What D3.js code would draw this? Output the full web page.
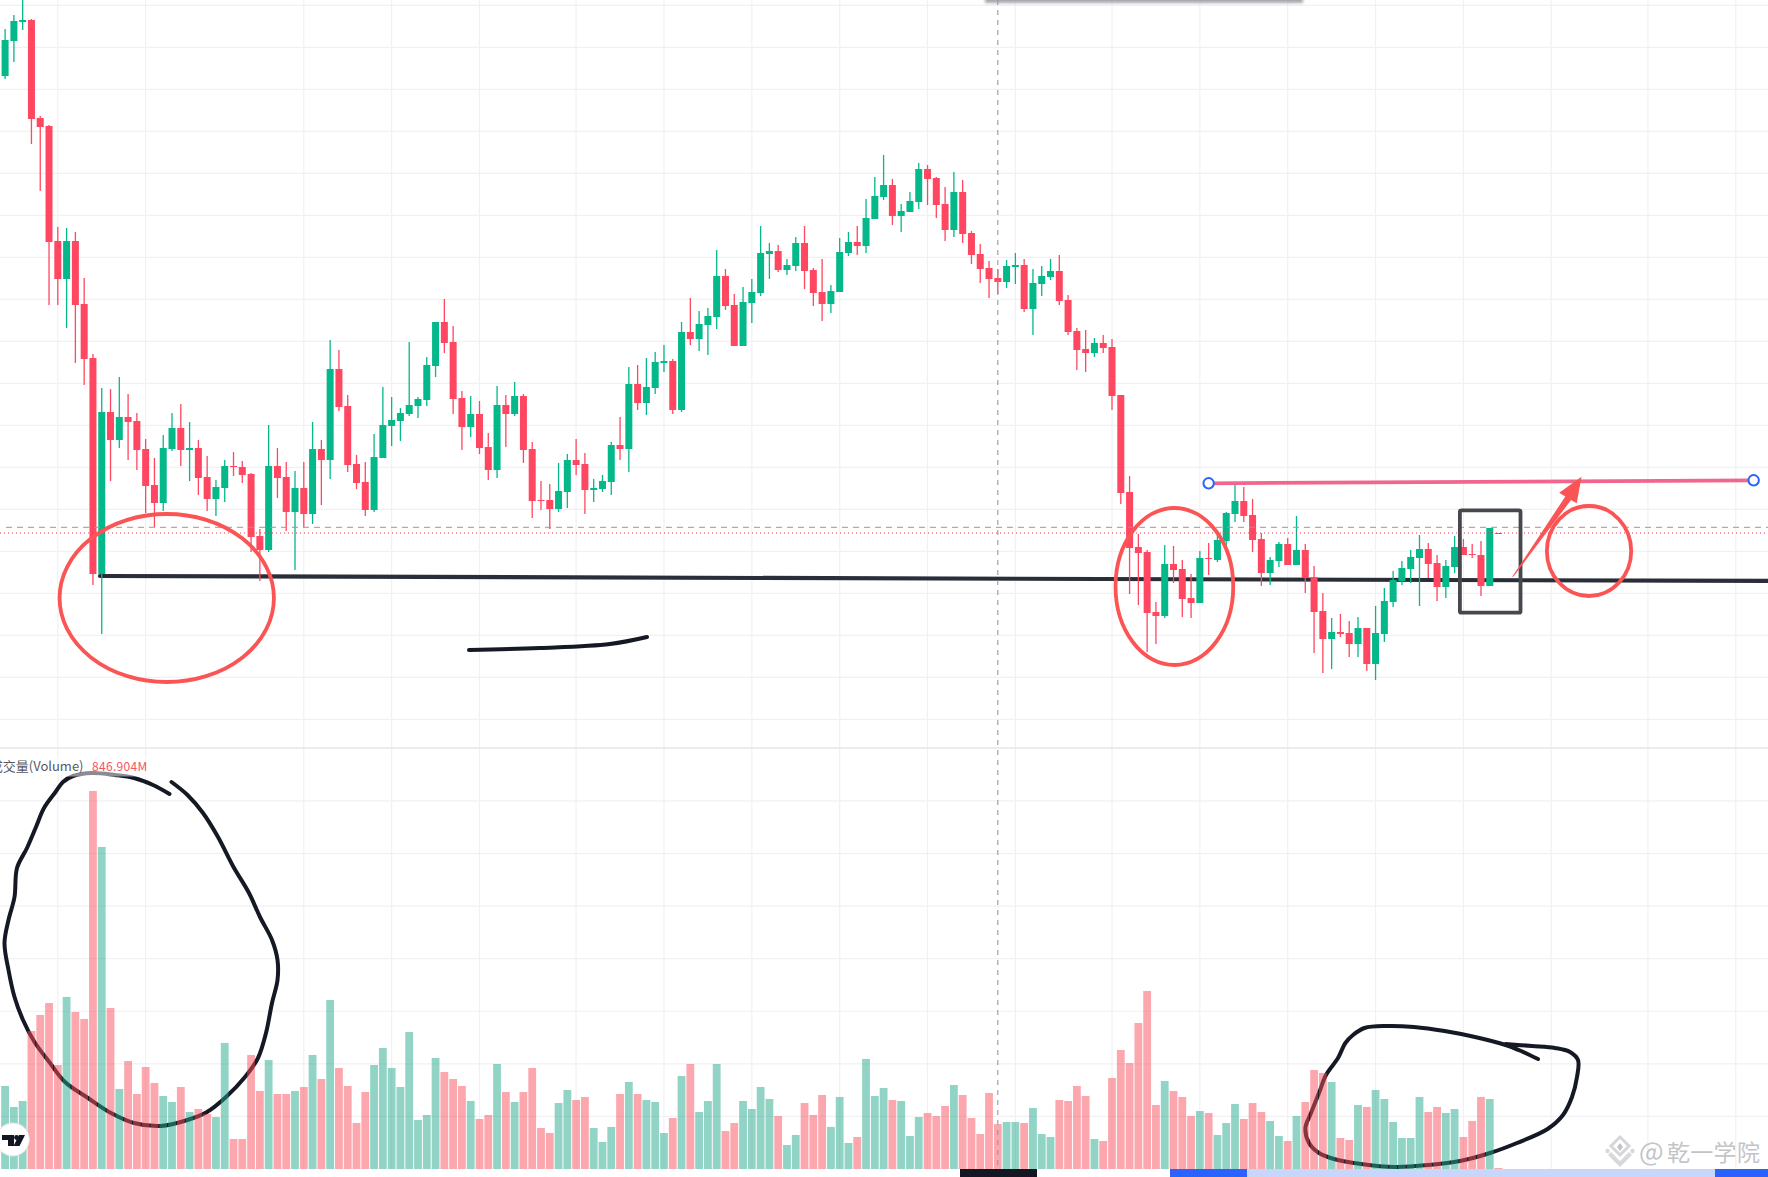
<!DOCTYPE html>
<html>
<head>
<meta charset="utf-8">
<title>K线图</title>
<script src="https://cdn.jsdelivr.net/npm/d3@7/dist/d3.min.js"></script>
<style>
  html, body { margin: 0; padding: 0; background: #fff; overflow: hidden; }
  svg { display: block; }
  text { font-family: "Noto Sans CJK SC", "Noto Sans", sans-serif; }
</style>
</head>
<body>
<div id="chart"></div>
<script>
// values (no price axis visible, so price is in arbitrary points)
const opens = [924,959,978,980,882,874,759,721,759,696,642,426,588,560,583,579,551,515,497,551,572,550,552,523,501,512,534,533,526,464,450,534,523,488,512,486,551,540,631,594,536,518,490,542,574,579,586,594,600,634,678,658,602,573,586,553,530,595,586,604,551,500,500,491,508,540,536,510,511,518,555,551,616,597,612,637,639,590,668,661,675,683,724,695,654,697,707,746,749,730,734,757,730,708,696,708,747,758,754,781,803,815,784,788,798,831,822,796,770,808,767,746,732,722,718,733,735,691,716,723,729,700,669,651,647,657,653,605,508,453,448,388,384,436,431,402,397,442,440,459,486,499,485,461,427,439,456,435,450,423,389,361,368,367,356,372,336,366,398,419,431,442,451,437,413,433,453,446,445,414,467];
const closes = [960,979,980,881,873,758,721,759,695,641,426,588,560,583,578,550,514,497,552,572,550,552,522,501,513,534,533,525,463,450,534,522,488,512,486,551,540,631,593,535,517,490,543,575,580,587,595,601,635,678,657,601,573,586,552,530,595,586,604,550,499,499,491,509,540,535,510,512,519,555,551,616,597,613,638,639,590,668,661,676,684,724,694,654,698,708,747,749,730,735,757,729,707,696,709,748,758,754,782,804,815,784,789,799,831,821,795,770,808,766,745,731,721,718,734,735,691,717,724,729,699,668,650,647,657,652,604,507,452,447,387,384,436,430,401,397,442,441,460,487,499,484,460,427,440,456,435,450,422,388,361,368,366,356,372,336,367,399,420,432,443,451,436,413,434,453,445,445,414,472,466];
const highs = [971,985,1005,981,884,875,773,772,768,722,646,612,611,623,606,587,561,542,565,587,596,578,560,544,520,540,548,539,527,471,575,552,538,529,538,578,560,660,650,605,545,538,566,613,603,592,658,603,643,678,701,674,609,604,599,567,614,605,618,606,558,519,516,537,546,561,547,521,525,558,583,633,635,642,648,655,641,678,702,689,692,750,731,706,713,721,774,757,755,741,763,774,732,741,715,762,768,774,801,823,845,821,796,808,837,835,823,813,828,820,769,756,739,731,740,747,741,731,734,741,745,705,672,670,662,665,661,605,524,466,450,398,455,454,440,426,449,457,466,488,516,513,501,467,443,458,462,484,456,434,407,382,386,379,383,372,394,412,429,439,450,465,457,445,440,464,461,456,459,472,467];
const lows = [921,938,970,856,809,695,695,672,637,615,415,366,519,552,540,530,487,473,489,549,534,519,505,489,484,498,524,517,448,419,448,502,469,430,473,476,495,521,589,528,511,484,488,542,554,559,584,582,594,623,647,586,550,563,546,520,522,553,584,537,482,490,471,488,492,525,486,498,508,505,540,528,590,585,606,628,586,588,655,649,645,671,690,654,654,677,704,721,728,725,729,711,694,679,687,708,744,745,747,781,800,775,768,788,791,795,782,759,763,757,736,717,702,706,712,716,688,665,704,720,695,665,630,628,643,647,590,496,406,395,348,356,382,417,383,382,397,425,438,452,478,478,448,414,415,433,435,435,407,347,327,331,363,343,343,329,320,358,393,415,417,394,422,399,402,427,445,442,404,414,466];
// volume in millions
const volumes = [1566,1170,1283,2604,2906,3132,1962,3246,2963,2830,7133,6076,3038,1510,2038,1415,1925,1623,1378,1264,1547,1076,1132,1038,981,2378,566,566,2151,1472,2057,1415,1415,1472,1547,2151,1698,3189,1906,1566,868,1453,1962,2283,1906,1547,2585,925,1019,2095,1830,1698,1566,1283,944,1019,1981,1453,1264,1453,1906,774,679,1245,1491,1302,1359,774,510,793,1415,1642,1415,1302,1264,679,962,1755,1981,1076,1283,1981,717,868,1283,1132,1547,1321,1000,453,642,1245,1019,1396,793,1359,491,604,2076,1378,1528,1302,1283,623,981,1057,1000,1189,1585,1396,962,660,1434,847,887,887,868,1151,660,604,1302,1283,1566,1378,566,528,1717,2246,2000,2755,3359,1208,1661,1472,1359,1000,1094,1057,642,868,1227,944,1245,1076,906,623,528,1000,1264,1868,1812,1642,585,547,1208,1170,1491,1321,887,585,585,1359,1076,1170,1057,1132,604,906,1359,1321,19];

// bars that carry a time gridline (a few are past the last candle)
const timeGridBars = [6,16,34,44,54,65,75,85,95,105,115,126,136,146,156,166,176,187,197];
const priceGridTicks = d3.range(994.7, 270, -42);
const volumeGridTicks = [992,1984,2976,3968,4960,5952,6944];

const volumeName = "成交量(Volume)";
const volumeLabel = "846.904M";
const hoverBar = 113;
const hoverPrice = 472.7;
const lastPrice = 467;

const width = 1768, height = 1177;
const paneSplit = 748, volumeBase = 1169;
const green = "#05b88a", red = "#ff4761";
const volGreen = "rgb(36,170,140)", volRed = "rgb(249,80,93)";

const x = d3.scaleLinear().domain([0, 100]).range([5.1, 883.6]);
const yPrice = d3.scaleLinear().domain([1000, 0]).range([0, 1000]);
const yVol = d3.scaleLinear().domain([0, 1000]).range([volumeBase, volumeBase - 53]);

const candles = opens.map((o, i) => ({
  i, open: o, close: closes[i], high: highs[i], low: lows[i], volume: volumes[i]
}));
const isUp = d => d.close >= d.open;

const svg = d3.select("#chart").append("svg")
  .attr("width", width)
  .attr("height", height)
  .attr("viewBox", `0 0 ${width} ${height}`);

const defs = svg.append("defs");
defs.append("filter").attr("id", "soft").attr("x", "-5%").attr("y", "-100%").attr("width", "110%").attr("height", "300%")
  .append("feGaussianBlur").attr("stdDeviation", 1.6);

svg.append("rect").attr("width", width).attr("height", height).attr("fill", "#fff");

// ---------- Grid ----------
const grid = svg.append("g").attr("stroke", "#f1f1f4").attr("stroke-width", 1.2);
grid.selectAll(".time-grid").data(timeGridBars).enter().append("line")
  .attr("x1", d => x(d)).attr("x2", d => x(d))
  .attr("y1", 0).attr("y2", volumeBase);
grid.selectAll(".price-grid").data(priceGridTicks).enter().append("line")
  .attr("x1", 0).attr("x2", width)
  .attr("y1", d => yPrice(d)).attr("y2", d => yPrice(d));
grid.selectAll(".vol-grid").data(volumeGridTicks).enter().append("line")
  .attr("x1", 0).attr("x2", width)
  .attr("y1", d => yVol(d)).attr("y2", d => yVol(d));
svg.append("line")
  .attr("x1", 0).attr("x2", width).attr("y1", paneSplit).attr("y2", paneSplit)
  .attr("stroke", "#e6e6e9").attr("stroke-width", 1.6);

// toolbar shadow peeking in at the top
svg.append("rect")
  .attr("x", 985).attr("y", -8).attr("width", 318).attr("height", 11)
  .attr("fill", "#a6a8ae").attr("filter", "url(#soft)");

// ---------- Pen strokes (freehand, drawn in page pixels, they sit under the bars) ----------
const inkLine = d3.line().curve(d3.curveCatmullRom.alpha(0.5));
const penVolumeLeft = [[169.5,794],[153,785],[134,778],[115,775],[92,773],[73,776],[63,782],[55.5,792],[44,808],[36,827],[27,848],[17,868],[14.5,897],[8.5,920],[4.5,943],[8.5,970],[14.5,997],[23,1020],[34.5,1042],[50,1063],[65,1082],[88,1098],[111,1113],[134,1123],[161,1126],[187.5,1120],[207,1112],[226,1097],[245,1077],[258,1058],[266,1033],[272,1003],[277.5,980],[277.5,960],[272,940],[260,917],[249,893],[233.5,867],[218,837],[203,813],[187.5,795],[171.5,782]];
const penVolumeRight = [[1538,1059],[1521,1051],[1505.6,1045],[1475,1037],[1444.6,1031],[1414,1027],[1387,1026],[1364.5,1028],[1353,1035],[1345.4,1043],[1338,1058],[1326,1075],[1319,1093],[1311,1113],[1305.4,1128],[1309,1143],[1319,1153],[1334,1159],[1361,1164],[1395,1167],[1429,1165],[1460,1161],[1490,1153],[1517,1143],[1547.6,1129],[1563,1115],[1572,1097],[1577,1077],[1578,1060],[1570,1052],[1555,1048],[1532,1046],[1505.6,1044]];
const penPrice = [[469,650],[540,648],[610,644],[647,637]];

svg.selectAll(".pen").data([penVolumeLeft, penVolumeRight, penPrice]).enter().append("path")
  .attr("class", "pen")
  .attr("d", inkLine)
  .attr("fill", "none")
  .attr("stroke", "#151924")
  .attr("stroke-width", 4)
  .attr("stroke-linecap", "round")
  .attr("stroke-linejoin", "round");

// support line, also under the candles
svg.append("line")
  .attr("x1", x(10.8)).attr("y1", yPrice(424))
  .attr("x2", x(202)).attr("y2", yPrice(419))
  .attr("stroke", "#2a2e39").attr("stroke-width", 4.2).attr("stroke-linecap", "round");

// ---------- Volume ----------
svg.selectAll(".vol-bar").data(candles).enter().append("rect")
  .attr("class", "vol-bar")
  .attr("x", d => x(d.i) - 3.9)
  .attr("width", 7.8)
  .attr("y", d => yVol(d.volume))
  .attr("height", d => volumeBase - yVol(d.volume))
  .attr("fill", d => isUp(d) ? volGreen : volRed)
  .attr("fill-opacity", 0.5);

// ---------- Candles ----------
const candleG = svg.selectAll(".candle").data(candles).enter().append("g")
  .attr("class", "candle")
  .attr("fill", d => isUp(d) ? green : red);
candleG.append("rect")
  .attr("x", d => x(d.i) - 0.65)
  .attr("width", 1.3)
  .attr("y", d => yPrice(d.high))
  .attr("height", d => yPrice(d.low) - yPrice(d.high));
candleG.append("rect")
  .attr("x", d => x(d.i) - 3.5)
  .attr("width", 7)
  .attr("y", d => yPrice(Math.max(d.open, d.close)))
  .attr("height", d => Math.max(1, Math.abs(yPrice(d.open) - yPrice(d.close))));

// ---------- Crosshair + last price ----------
svg.append("line")
  .attr("x1", x(hoverBar)).attr("x2", x(hoverBar))
  .attr("y1", 0).attr("y2", volumeBase)
  .attr("stroke", "#9598a1").attr("stroke-width", 1.1).attr("stroke-dasharray", "5,5");
svg.append("line")
  .attr("x1", 6).attr("x2", width)
  .attr("y1", yPrice(hoverPrice)).attr("y2", yPrice(hoverPrice))
  .attr("stroke", "#9598a1").attr("stroke-width", 1).attr("stroke-dasharray", "6,5");
svg.append("line")
  .attr("x1", 0).attr("x2", width)
  .attr("y1", yPrice(lastPrice)).attr("y2", yPrice(lastPrice))
  .attr("stroke", "#f23645").attr("stroke-width", 1).attr("stroke-dasharray", "1,3");

// ---------- Annotations on top of the candles ----------
// ellipses: centre bar, centre price, radius in bars, radius in price points
const ellipseNotes = [
  { bar: 18.4, price: 402, rBar: 12.2, rPrice: 84 },
  { bar: 133.1, price: 413.5, rBar: 6.7, rPrice: 78.5 },
  { bar: 180.3, price: 449, rBar: 4.8, rPrice: 45 }
];
svg.selectAll(".note-ellipse").data(ellipseNotes).enter().append("ellipse")
  .attr("class", "note-ellipse")
  .attr("cx", d => x(d.bar))
  .attr("cy", d => yPrice(d.price))
  .attr("rx", d => x(d.rBar) - x(0))
  .attr("ry", d => d.rPrice)
  .attr("fill", "none")
  .attr("stroke", "#fb5454")
  .attr("stroke-width", 3.8);

// box around the last candles
svg.append("rect")
  .attr("x", x(165.6)).attr("y", yPrice(489.7))
  .attr("width", x(172.5) - x(165.6))
  .attr("height", yPrice(387.3) - yPrice(489.7))
  .attr("rx", 1.5)
  .attr("fill", "none")
  .attr("stroke", "#47484d")
  .attr("stroke-width", 3.8);

// resistance line with its two handles
const resistance = [[137, 516.7], [199.04, 519.7]];
svg.append("line")
  .attr("x1", x(resistance[0][0])).attr("y1", yPrice(resistance[0][1]))
  .attr("x2", x(resistance[1][0])).attr("y2", yPrice(resistance[1][1]))
  .attr("stroke", "#f0668f").attr("stroke-width", 3.8);
svg.selectAll(".handle").data(resistance).enter().append("circle")
  .attr("cx", d => x(d[0]))
  .attr("cy", d => yPrice(d[1]))
  .attr("r", 5.2)
  .attr("fill", "#fff")
  .attr("stroke", "#2962ff")
  .attr("stroke-width", 2);

// arrow up to the resistance line (bar, price)
const arrowOutline = [[171.5,422.5],[177.6,503.5],[176.9,507.3],[179.45,523.3],[178.9,496.7],[178.25,500],[171.75,424]];
svg.append("path")
  .attr("d", d3.line().x(d => x(d[0])).y(d => yPrice(d[1])).curve(d3.curveLinearClosed)(arrowOutline))
  .attr("fill", "#fb5454");

// ---------- Volume legend ----------
// legend backdrop fades the pen stroke under it
svg.append("rect")
  .attr("x", 0).attr("y", 757).attr("width", 152).attr("height", 19.5)
  .attr("fill", "#fff").attr("fill-opacity", 0.5);
svg.append("text")
  .attr("x", 83.5).attr("y", 771)
  .attr("text-anchor", "end")
  .attr("font-size", 13)
  .attr("fill", "#55585f")
  .text(volumeName);
svg.append("text")
  .attr("x", 92).attr("y", 770.5)
  .attr("font-size", 12)
  .attr("letter-spacing", 0.3)
  .attr("fill", "#f7525f")
  .text(volumeLabel);

// ---------- TradingView badge ----------
const badge = svg.append("g");
badge.append("circle")
  .attr("cx", 12.8).attr("cy", 1139.5).attr("r", 16.5)
  .attr("fill", "#fff").attr("stroke", "#e4e4e6").attr("stroke-width", 1);
badge.append("path")
  .attr("d", "M2,1135H14V1146H8V1140H2Z M13.5,1146L19,1135H25L19.5,1146Z")
  .attr("fill", "#131722");
badge.append("circle").attr("cx", 16.5).attr("cy", 1137.5).attr("r", 2.4).attr("fill", "#131722");

// ---------- Scrollbar strip along the bottom ----------
const stripParts = [
  { x0: 960, x1: 1037, color: "#131722" },
  { x0: 1170, x1: 1247, color: "#2962ff" },
  { x0: 1247, x1: 1715, color: "#c8d6fc" },
  { x0: 1715, x1: 1768, color: "#2962ff" }
];
svg.selectAll(".strip").data(stripParts).enter().append("rect")
  .attr("x", d => d.x0)
  .attr("y", volumeBase)
  .attr("width", d => d.x1 - d.x0)
  .attr("height", height - volumeBase)
  .attr("fill", d => d.color);

// ---------- Watermark ----------
const mark = svg.append("g").attr("fill", "#c4c4c8");
mark.append("path")
  .attr("d", "M1620,1137L1629,1146L1620,1155L1611,1146Z")
  .attr("fill", "none").attr("stroke", "#d6d6da").attr("stroke-width", 3);
mark.append("path").attr("d", "M1620,1143L1623,1147L1620,1151L1617,1147Z");
mark.append("circle").attr("cx", 1607.5).attr("cy", 1151).attr("r", 2.2).attr("fill", "#d8d8dc");
mark.append("circle").attr("cx", 1632.5).attr("cy", 1151).attr("r", 2.2).attr("fill", "#d8d8dc");
mark.append("path").attr("d", "M1611,1152L1620,1161L1629,1152L1632,1155L1620,1167L1608,1155Z").attr("fill", "#d8d8dc");
mark.append("text")
  .attr("x", 1639).attr("y", 1161)
  .attr("font-size", 26)
  .text("@");
mark.append("text")
  .attr("x", 1667).attr("y", 1161)
  .attr("font-size", 23)
  .attr("letter-spacing", 0.3)
  .text("乾一学院");
</script>
</body>
</html>
